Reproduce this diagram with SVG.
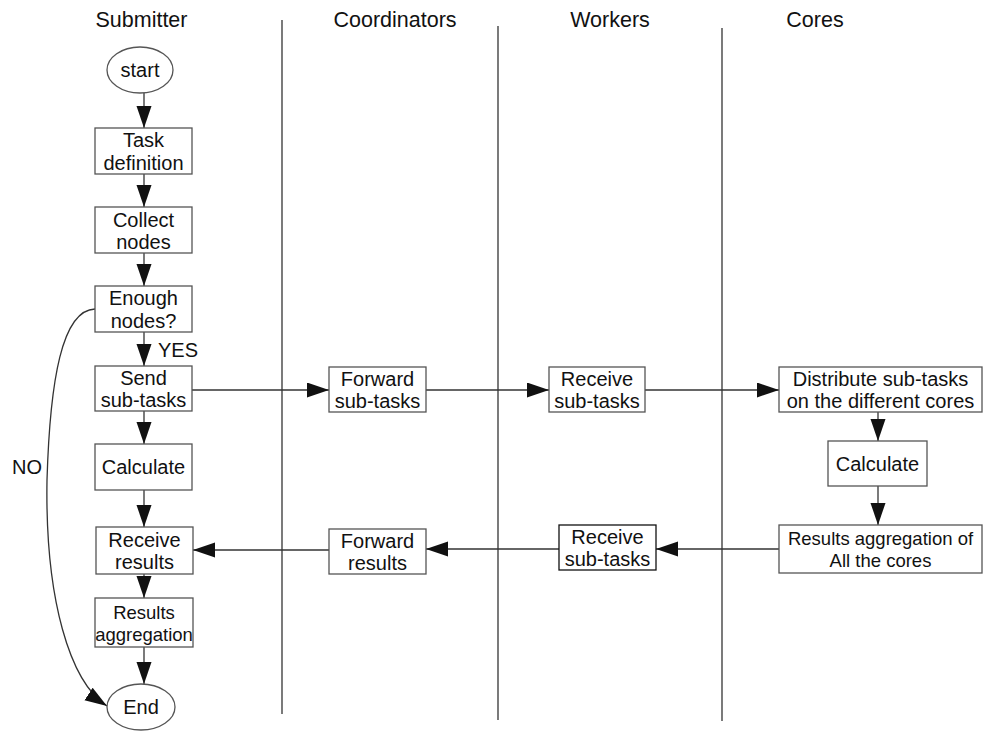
<svg xmlns="http://www.w3.org/2000/svg" width="983" height="731" viewBox="0 0 983 731">
<style>
  .box { fill: #ffffff; stroke: #555555; stroke-width: 1.3; }
  .box2 { fill: #ffffff; stroke: #111111; stroke-width: 1.3; }
  .t { font-family: "Liberation Sans", Arial, sans-serif; font-size: 20px; fill: #111111; text-anchor: middle; }
  .ts { font-family: "Liberation Sans", Arial, sans-serif; font-size: 18.5px; fill: #111111; text-anchor: middle; }
  .h { font-family: "Liberation Sans", Arial, sans-serif; font-size: 21.5px; fill: #111111; text-anchor: middle; }
  .lane { stroke: #333333; stroke-width: 1.3; }
  .c { stroke: #333333; stroke-width: 1.3; fill: none; }
</style>
<defs>
  <marker id="arr" markerUnits="userSpaceOnUse" markerWidth="24" markerHeight="16" refX="22" refY="7.5" orient="auto">
    <path d="M0,0 L22,7.5 L0,15 z" fill="#111111"/>
  </marker>
</defs>
<rect width="983" height="731" fill="#ffffff"/>

<g id="lanes">
  <line class="lane" x1="282" y1="20" x2="282" y2="714"/>
  <line class="lane" x1="498" y1="26" x2="498" y2="720"/>
  <line class="lane" x1="722" y1="28" x2="722" y2="721"/>
  <text class="h" x="141.5" y="27">Submitter</text>
  <text class="h" x="395" y="27">Coordinators</text>
  <text class="h" x="610" y="27">Workers</text>
  <text class="h" x="815" y="27">Cores</text>
</g>

<g id="connectors">
  <line class="c" x1="144" y1="93" x2="144" y2="128" marker-end="url(#arr)"/>
  <line class="c" x1="144" y1="174" x2="144" y2="207" marker-end="url(#arr)"/>
  <line class="c" x1="144" y1="253" x2="144" y2="286" marker-end="url(#arr)"/>
  <line class="c" x1="144" y1="332" x2="144" y2="366" marker-end="url(#arr)"/>
  <line class="c" x1="144" y1="411" x2="144" y2="444" marker-end="url(#arr)"/>
  <line class="c" x1="144" y1="490" x2="144" y2="527" marker-end="url(#arr)"/>
  <line class="c" x1="144" y1="574" x2="144" y2="598" marker-end="url(#arr)"/>
  <line class="c" x1="144" y1="647" x2="144" y2="684" marker-end="url(#arr)"/>
  <path class="c" d="M95,309 C62,310 50,380 47,480 C45,600 70,682 107,706" marker-end="url(#arr)"/>
  <line class="c" x1="192" y1="390" x2="329" y2="390" marker-end="url(#arr)"/>
  <line class="c" x1="426" y1="390" x2="549" y2="390" marker-end="url(#arr)"/>
  <line class="c" x1="645" y1="390" x2="779" y2="390" marker-end="url(#arr)"/>
  <line class="c" x1="878" y1="412" x2="878" y2="441" marker-end="url(#arr)"/>
  <line class="c" x1="878" y1="486" x2="878" y2="525" marker-end="url(#arr)"/>
  <line class="c" x1="779" y1="549" x2="656" y2="549" marker-end="url(#arr)"/>
  <line class="c" x1="559" y1="549" x2="426" y2="549" marker-end="url(#arr)"/>
  <line class="c" x1="329" y1="550" x2="193" y2="550" marker-end="url(#arr)"/>
  <text class="t" x="178" y="357" font-size="21">YES</text>
  <text class="t" x="27" y="474" font-size="21">NO</text>
</g>

<g id="start">
  <ellipse class="box" cx="140" cy="70" rx="33" ry="23"/>
  <text class="t" x="140" y="77">start</text>
</g>
<g id="task-definition">
  <rect class="box" x="95" y="128" width="97" height="46"/>
  <text class="t" x="143.5" y="147">Task</text>
  <text class="t" x="143.5" y="170">definition</text>
</g>
<g id="collect-nodes">
  <rect class="box" x="95" y="207" width="97" height="46"/>
  <text class="t" x="143.5" y="227">Collect</text>
  <text class="t" x="143.5" y="249">nodes</text>
</g>
<g id="enough-nodes">
  <rect class="box" x="95" y="286" width="97" height="46"/>
  <text class="t" x="143.5" y="305">Enough</text>
  <text class="t" x="143.5" y="328">nodes?</text>
</g>
<g id="send-subtasks">
  <rect class="box" x="95" y="366" width="97" height="45"/>
  <text class="t" x="143.5" y="385">Send</text>
  <text class="t" x="143.5" y="407">sub-tasks</text>
</g>
<g id="calculate-submitter">
  <rect class="box" x="95" y="444" width="97" height="46"/>
  <text class="t" x="143.5" y="474">Calculate</text>
</g>
<g id="receive-results">
  <rect class="box" x="96" y="527" width="97" height="47"/>
  <text class="t" x="144.5" y="547">Receive</text>
  <text class="t" x="144.5" y="569">results</text>
</g>
<g id="results-aggregation">
  <rect class="box" x="95" y="598" width="98" height="49"/>
  <text class="ts" x="144" y="619">Results</text>
  <text class="ts" x="144" y="641">aggregation</text>
</g>
<g id="end">
  <ellipse class="box" cx="141" cy="707" rx="34" ry="23"/>
  <text class="t" x="141" y="714">End</text>
</g>

<g id="forward-subtasks">
  <rect class="box" x="329" y="367" width="97" height="45"/>
  <text class="t" x="377.5" y="386">Forward</text>
  <text class="t" x="377.5" y="408">sub-tasks</text>
</g>
<g id="forward-results">
  <rect class="box" x="329" y="529" width="97" height="45"/>
  <text class="t" x="377.5" y="548">Forward</text>
  <text class="t" x="377.5" y="570">results</text>
</g>

<g id="receive-subtasks">
  <rect class="box" x="549" y="367" width="96" height="45"/>
  <text class="t" x="597" y="386">Receive</text>
  <text class="t" x="597" y="408">sub-tasks</text>
</g>
<g id="receive-subtasks-2">
  <rect class="box2" x="559" y="525" width="97" height="45"/>
  <text class="t" x="607.5" y="544">Receive</text>
  <text class="t" x="607.5" y="566">sub-tasks</text>
</g>

<g id="distribute">
  <rect class="box" x="779" y="367" width="203" height="45"/>
  <text class="t" x="880.5" y="386">Distribute sub-tasks</text>
  <text class="t" x="880.5" y="408">on the different cores</text>
</g>
<g id="calculate-cores">
  <rect class="box" x="828" y="441" width="99" height="45"/>
  <text class="t" x="877.5" y="471">Calculate</text>
</g>
<g id="results-aggregation-cores">
  <rect class="box" x="779" y="525" width="203" height="48"/>
  <text class="ts" x="880.5" y="545">Results aggregation of</text>
  <text class="ts" x="880.5" y="567">All the cores</text>
</g>
</svg>
